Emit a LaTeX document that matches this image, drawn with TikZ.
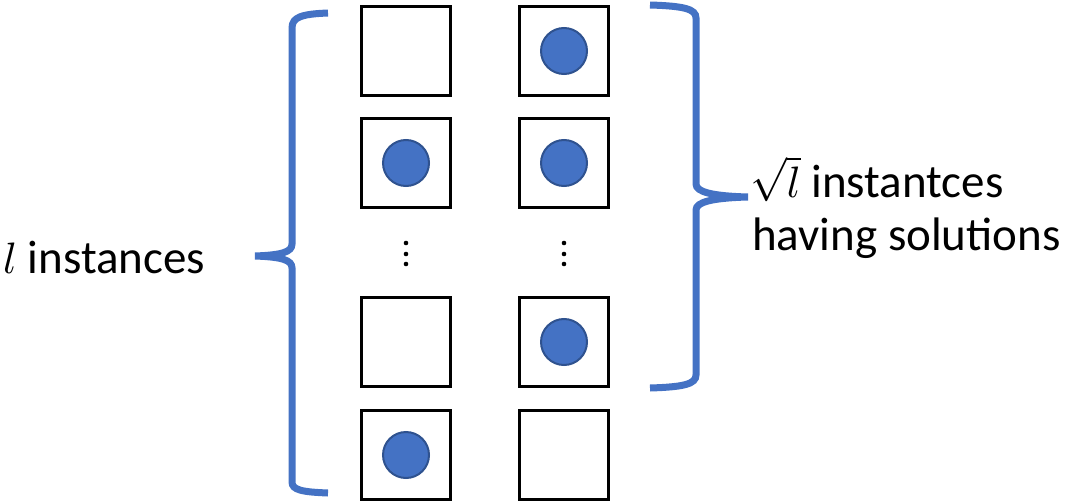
\documentclass[tikz,border=0pt]{standalone}
\usepackage{fontspec}
\setmainfont{Carlito}
% math symbols set at 10pt and scaled up to the label size
\newcommand{\bigmath}[1]{\scalebox{4.4}{\fontsize{10}{12}\selectfont$#1$}}
\begin{document}
\begin{tikzpicture}[x=1pt,y=-1pt,
  cell/.style={draw=black,line width=3pt,minimum size=89pt,inner sep=0pt},
  dot/.style={circle,fill=dotblue,draw=dotedge,line width=2pt,minimum size=46pt,inner sep=0pt},
  brace/.style={draw=braceblue,line width=7pt},
  lbl/.style={font=\fontsize{47}{56}\selectfont,inner sep=0pt,anchor=base west}]
\definecolor{dotblue}{HTML}{4472C4}
\definecolor{dotedge}{HTML}{2F528F}
\definecolor{braceblue}{HTML}{4472C4}
\useasboundingbox (0,0) rectangle (1066,503);

% grid of instance cells
\node[cell] (a1) at (406,51) {};
\node[cell] (b1) at (564,51) {};
\node[cell] (a2) at (406,163) {};
\node[cell] (b2) at (564,163) {};
\node[cell] (a4) at (406,342) {};
\node[cell] (b4) at (564,342) {};
\node[cell] (a5) at (406,455) {};
\node[cell] (b5) at (564,455) {};

% solutions
\node[dot] (sb1) at (b1) {};
\node[dot] (sa2) at (a2) {};
\node[dot] (sb2) at (b2) {};
\node[dot] (sb4) at (b4) {};
\node[dot] (sa5) at (a5) {};

% vertical ellipses
\foreach \c/\x in {a/406,b/564}{
  \foreach \y [count=\i] in {243,254,264}
    \fill (\x,\y) circle (2.3pt) coordinate (e\c\i);
}

% left brace
\path[brace] (328,13) .. controls (302,14) and (292,17) .. (292,28)
  -- (292,244) .. controls (292,252) and (282,255) .. (255,256)
  .. controls (282,257) and (292,260) .. (292,268)
  -- (292,482) .. controls (292,490) and (302,492) .. (328,493);

% right brace
\path[brace] (650,5) .. controls (684,6) and (696,9) .. (696,18)
  -- (696,184) .. controls (696,192) and (712,196) .. (748,197)
  .. controls (712,198) and (696,202) .. (696,210)
  -- (696,375) .. controls (696,384) and (684,387) .. (650,388);

% labels
\node[lbl] (left) at (3,273) {\bigmath{l} instances};
\node[lbl] (right1) at (750,197) {\bigmath{\sqrt{l}} instantces};
\node[lbl] (right2) at (752,250) {having solutions};
\end{tikzpicture}
\end{document}
